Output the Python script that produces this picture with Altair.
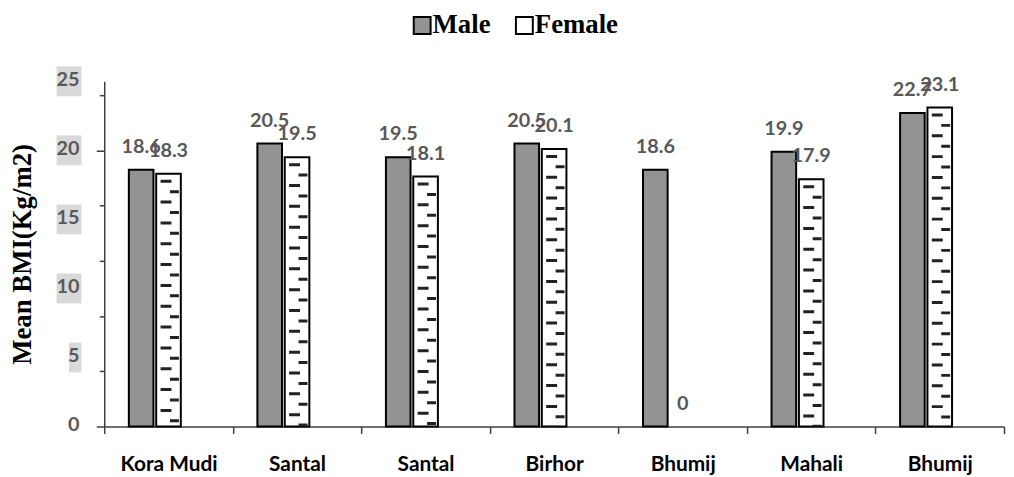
import altair as alt
import pandas as pd

categories = ["Kora Mudi", "Santal", "Santal", "Birhor", "Bhumij", "Mahali", "Bhumij"]
male = [18.6, 20.5, 19.5, 20.5, 18.6, 19.9, 22.7]
female = [18.3, 19.5, 18.1, 20.1, 0, 17.9, 23.1]
series = ["Male", "Female"]
offset_domain = ["Male", "Female", "Spare"]
y_tick_labels = [0, 5, 10, 15, 20, 25]

rows = []
for i, c in enumerate(categories):
    rows.append({"idx": i, "cat": c, "series": "Male", "value": male[i], "label": f"{male[i]:g}"})
    rows.append({"idx": i, "cat": c, "series": "Female", "value": female[i], "label": f"{female[i]:g}"})
df = pd.DataFrame(rows)
df_bars = df[df.value > 0]
df_fem = df[(df.series == "Female") & (df.value > 0)]
df_ylab = pd.DataFrame({"v": y_tick_labels, "txt": [str(v) for v in y_tick_labels]})

label_expr = "[" + ",".join("'" + c + "'" for c in categories) + "][datum.value]"
AX = "#404040"

x_axis = alt.Axis(
    title=None, labelExpr=label_expr, labelAngle=0, tickBand="extent",
    tickSize=7, tickColor=AX, domainColor=AX, domainWidth=1.5, tickWidth=1.5,
    labelFont="Lato", labelFontWeight="bold", labelFontSize=21, labelColor="black",
    labelPadding=20,
)
x_scale = alt.Scale(paddingInner=0, paddingOuter=0)
x_enc = alt.X("idx:O", scale=x_scale, axis=x_axis)
xo_enc = alt.XOffset("series:N", scale=alt.Scale(domain=offset_domain, paddingInner=0.1, paddingOuter=0.9))
y_scale = alt.Scale(domain=[0, 25], nice=False)

bars = alt.Chart(df_bars).mark_bar(stroke="black", strokeWidth=2).encode(
    x=x_enc,
    xOffset=xo_enc,
    y=alt.Y(
        "value:Q", scale=y_scale,
        axis=alt.Axis(
            values=list(range(26)), labels=False,
            tickSize={"condition": {"test": "datum.value % 5 == 0", "value": 8}, "value": 5},
            tickColor=AX, domainColor=AX, domainWidth=1.5, tickWidth=1.5, grid=False,
            title="Mean BMI(Kg/m2)", titleFont="Liberation Serif", titleFontWeight="bold",
            titleFontSize=27, titleColor="black", titlePadding=60,
        ),
    ),
    color=alt.Color(
        "series:N",
        scale=alt.Scale(domain=series, range=["#939393", "white"]),
        legend=alt.Legend(
            title=None, orient="none", direction="horizontal", legendX=307, legendY=-70,
            symbolType="square", symbolSize=289, symbolStrokeColor="black", symbolStrokeWidth=2,
            labelFont="Liberation Serif", labelFontWeight="bold", labelFontSize=27,
            labelColor="black", labelOffset=alt.ExprRef(expr="-3"), columnPadding=20,
        ),
    ),
)

dash_mid = alt.Chart(df_fem).mark_rule(
    strokeWidth=11, strokeDash=[3, 18], strokeDashOffset=-6, color="#222"
).encode(
    x=alt.X("idx:O", scale=x_scale, axis=x_axis, bandPosition=0.4807),
    y=alt.Y("value:Q", scale=y_scale), y2=alt.datum(0),
)
dash_right = alt.Chart(df_fem).mark_rule(
    strokeWidth=9, strokeDash=[3, 18], strokeDashOffset=-16.5, color="#222"
).encode(
    x=alt.X("idx:O", scale=x_scale, axis=x_axis, bandPosition=0.5463),
    y=alt.Y("value:Q", scale=y_scale), y2=alt.datum(0),
)

texts = alt.Chart(df).mark_text(
    dy=-17, baseline="alphabetic", font="Lato", fontWeight="bold", fontSize=20, color="#595959"
).encode(x=x_enc, xOffset=xo_enc, y=alt.Y("value:Q", scale=y_scale), text="label:N")

boxes = alt.Chart(df_ylab).transform_filter("datum.v > 0").transform_calculate(
    lo="datum.v - 1.08", hi="datum.v + 1.08",
    x1="-23 - 12.5 * length(datum.txt)", x2="-23",
).mark_rect(color="#d9d9d9").encode(
    x=alt.X("x1:Q", scale=None), x2="x2:Q",
    y=alt.Y("lo:Q", scale=y_scale), y2="hi:Q",
)

ylabels = alt.Chart(df_ylab).mark_text(
    align="right", baseline="middle", dy=-1, font="Lato", fontWeight="bold",
    fontSize=20, color="#595959",
).encode(x=alt.value(-25), y=alt.Y("v:Q", scale=y_scale), text="txt:N")

chart = alt.layer(boxes, ylabels, bars, dash_mid, dash_right, texts).properties(
    width=907, height=348,
    autosize=alt.AutoSizeParams(type="none"),
    padding={"left": 97, "top": 72, "right": 2, "bottom": 49},
).configure_view(stroke=None)

chart.save("out.html", embed_options={"renderer": "svg", "actions": False})
